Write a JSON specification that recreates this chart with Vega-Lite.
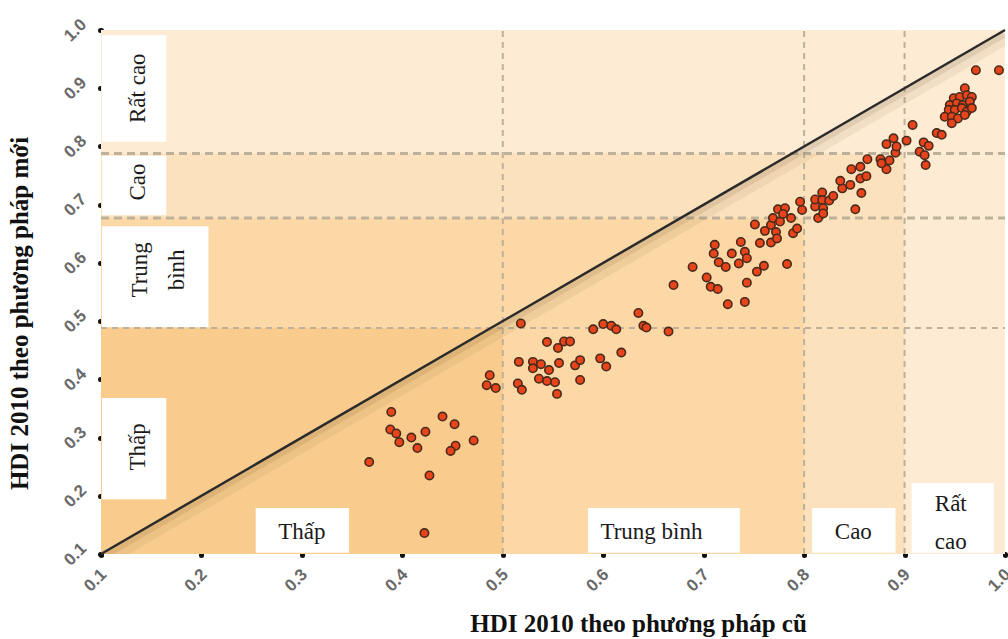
{
  "$schema": "https://vega.github.io/schema/vega-lite/v6.json",
  "width": 904,
  "height": 524,
  "autosize": "none",
  "padding": {"left": 101, "top": 30, "right": 3, "bottom": 85},
  "background": "white",
  "config": {"view": {"stroke": null}},
  "datasets": {
    "bg": [
      {"x1": 0.1, "x2": 1.0, "y1": 0.1, "y2": 1.0, "c": "#FDEBD3"},
      {"x1": 0.1, "x2": 0.9, "y1": 0.1, "y2": 0.788, "c": "#FCE1BD"},
      {"x1": 0.1, "x2": 0.8, "y1": 0.1, "y2": 0.677, "c": "#FBD8A5"},
      {"x1": 0.1, "x2": 0.5, "y1": 0.1, "y2": 0.488, "c": "#F9CC8E"}
    ],
    "thick": [
      {"x1": 0.1, "x2": 1.0, "y1": 0.788, "y2": 0.788},
      {"x1": 0.1, "x2": 1.0, "y1": 0.677, "y2": 0.677}
    ],
    "thin": [
      {"x1": 0.1, "x2": 1.0, "y1": 0.488, "y2": 0.488},
      {"x1": 0.5, "x2": 0.5, "y1": 0.1, "y2": 1.0},
      {"x1": 0.8, "x2": 0.8, "y1": 0.1, "y2": 1.0},
      {"x1": 0.9, "x2": 0.9, "y1": 0.1, "y2": 1.0}
    ],
    "diag": [{"x": 0.1, "y": 0.1}, {"x": 1.0, "y": 1.0}],
    "boxes": [
      {"x1": 0.101, "x2": 0.165, "y1": 0.808, "y2": 0.991},
      {"x1": 0.101, "x2": 0.165, "y1": 0.682, "y2": 0.784},
      {"x1": 0.101, "x2": 0.207, "y1": 0.490, "y2": 0.663},
      {"x1": 0.101, "x2": 0.165, "y1": 0.194, "y2": 0.368},
      {"x1": 0.254, "x2": 0.347, "y1": 0.102, "y2": 0.179},
      {"x1": 0.585, "x2": 0.736, "y1": 0.102, "y2": 0.179},
      {"x1": 0.808, "x2": 0.891, "y1": 0.102, "y2": 0.179},
      {"x1": 0.907, "x2": 0.989, "y1": 0.102, "y2": 0.222}
    ],
    "vlabels": [
      {"x": 0.137, "y": 0.900, "t": "Rất cao"},
      {"x": 0.137, "y": 0.739, "t": "Cao"},
      {"x": 0.139, "y": 0.588, "t": "Trung\nbình"},
      {"x": 0.137, "y": 0.284, "t": "Thấp"}
    ],
    "hlabels": [
      {"x": 0.300, "y": 0.137, "t": "Thấp"},
      {"x": 0.648, "y": 0.137, "t": "Trung bình"},
      {"x": 0.849, "y": 0.137, "t": "Cao"},
      {"x": 0.946, "y": 0.186, "t": "Rất"},
      {"x": 0.946, "y": 0.120, "t": "cao"}
    ],
    "pts": [
      {"x":0.389,"y":0.344},{"x":0.440,"y":0.336},{"x":0.452,"y":0.323},{"x":0.388,"y":0.314},
      {"x":0.394,"y":0.307},{"x":0.409,"y":0.300},{"x":0.423,"y":0.310},{"x":0.397,"y":0.292},
      {"x":0.415,"y":0.282},{"x":0.471,"y":0.295},{"x":0.453,"y":0.286},{"x":0.448,"y":0.277},
      {"x":0.367,"y":0.258},{"x":0.427,"y":0.235},{"x":0.422,"y":0.136},{"x":0.518,"y":0.496},
      {"x":0.487,"y":0.407},{"x":0.484,"y":0.390},{"x":0.493,"y":0.385},{"x":0.516,"y":0.430},
      {"x":0.515,"y":0.393},{"x":0.519,"y":0.382},{"x":0.530,"y":0.430},{"x":0.530,"y":0.419},
      {"x":0.538,"y":0.426},{"x":0.546,"y":0.416},{"x":0.536,"y":0.401},{"x":0.544,"y":0.397},
      {"x":0.552,"y":0.395},{"x":0.554,"y":0.375},{"x":0.556,"y":0.428},{"x":0.544,"y":0.464},
      {"x":0.555,"y":0.454},{"x":0.561,"y":0.465},{"x":0.567,"y":0.465},{"x":0.572,"y":0.424},
      {"x":0.577,"y":0.433},{"x":0.577,"y":0.399},{"x":0.590,"y":0.486},{"x":0.600,"y":0.495},
      {"x":0.608,"y":0.492},{"x":0.613,"y":0.486},{"x":0.597,"y":0.436},{"x":0.603,"y":0.422},
      {"x":0.618,"y":0.446},{"x":0.635,"y":0.514},{"x":0.640,"y":0.492},{"x":0.643,"y":0.489},
      {"x":0.665,"y":0.482},{"x":0.670,"y":0.562},{"x":0.689,"y":0.593},{"x":0.703,"y":0.575},
      {"x":0.707,"y":0.559},{"x":0.714,"y":0.555},{"x":0.711,"y":0.631},{"x":0.710,"y":0.616},
      {"x":0.715,"y":0.601},{"x":0.722,"y":0.593},{"x":0.728,"y":0.616},{"x":0.737,"y":0.636},
      {"x":0.741,"y":0.619},{"x":0.743,"y":0.608},{"x":0.735,"y":0.599},{"x":0.724,"y":0.529},
      {"x":0.741,"y":0.533},{"x":0.743,"y":0.566},{"x":0.753,"y":0.585},{"x":0.760,"y":0.595},
      {"x":0.783,"y":0.598},{"x":0.751,"y":0.666},{"x":0.756,"y":0.634},{"x":0.761,"y":0.655},
      {"x":0.767,"y":0.635},{"x":0.772,"y":0.653},{"x":0.773,"y":0.642},{"x":0.767,"y":0.665},
      {"x":0.769,"y":0.677},{"x":0.776,"y":0.671},{"x":0.774,"y":0.692},{"x":0.781,"y":0.694},
      {"x":0.779,"y":0.684},{"x":0.787,"y":0.677},{"x":0.789,"y":0.651},{"x":0.793,"y":0.659},
      {"x":0.798,"y":0.691},{"x":0.796,"y":0.705},{"x":0.811,"y":0.697},{"x":0.814,"y":0.677},
      {"x":0.811,"y":0.709},{"x":0.818,"y":0.721},{"x":0.818,"y":0.708},{"x":0.819,"y":0.694},
      {"x":0.825,"y":0.707},{"x":0.829,"y":0.715},{"x":0.819,"y":0.685},{"x":0.851,"y":0.692},
      {"x":0.838,"y":0.728},{"x":0.836,"y":0.741},{"x":0.846,"y":0.734},{"x":0.856,"y":0.745},
      {"x":0.862,"y":0.749},{"x":0.857,"y":0.720},{"x":0.847,"y":0.761},{"x":0.856,"y":0.765},
      {"x":0.863,"y":0.778},{"x":0.876,"y":0.778},{"x":0.882,"y":0.761},{"x":0.877,"y":0.771},
      {"x":0.885,"y":0.776},{"x":0.882,"y":0.804},{"x":0.889,"y":0.814},{"x":0.891,"y":0.789},
      {"x":0.892,"y":0.800},{"x":0.902,"y":0.810},{"x":0.908,"y":0.837},{"x":0.971,"y":0.931},
      {"x":0.994,"y":0.931},{"x":0.960,"y":0.900},{"x":0.949,"y":0.883},{"x":0.955,"y":0.885},
      {"x":0.962,"y":0.888},{"x":0.967,"y":0.885},{"x":0.945,"y":0.871},{"x":0.952,"y":0.874},
      {"x":0.958,"y":0.871},{"x":0.965,"y":0.877},{"x":0.944,"y":0.863},{"x":0.950,"y":0.863},
      {"x":0.957,"y":0.866},{"x":0.962,"y":0.860},{"x":0.967,"y":0.866},{"x":0.940,"y":0.851},
      {"x":0.947,"y":0.851},{"x":0.953,"y":0.848},{"x":0.960,"y":0.854},{"x":0.947,"y":0.840},
      {"x":0.932,"y":0.823},{"x":0.937,"y":0.820},{"x":0.919,"y":0.807},{"x":0.924,"y":0.801},
      {"x":0.915,"y":0.791},{"x":0.920,"y":0.785},{"x":0.921,"y":0.768}
    ]
  },
  "layer": [
    {
      "data": {"name": "bg"},
      "mark": {"type": "rect"},
      "encoding": {
        "x": {
          "field": "x1", "type": "quantitative",
          "scale": {"domain": [0.1, 1.0], "nice": false, "zero": false},
          "axis": {
            "title": "HDI 2010 theo phương pháp cũ",
            "values": [0.1, 0.2, 0.3, 0.4, 0.5, 0.6, 0.7, 0.8, 0.9, 1.0],
            "format": ".1f",
            "domain": false, "grid": false,
            "ticks": true, "tickSize": 1, "tickWidth": 5, "tickCap": "round", "tickColor": "#111",
            "labelAngle": -45, "labelAlign": "center", "labelBaseline": "middle",
            "labelPadding": 25, "labelOffset": -6,
            "labelFont": "Liberation Sans", "labelFontSize": 17, "labelFontWeight": "bold", "labelColor": "#6a6a6a",
            "labelOverlap": false, "labelFlush": false, "labelBound": false,
            "titleFont": "Liberation Serif", "titleFontSize": 25, "titleFontWeight": "bold", "titleColor": "#111",
            "titleX": 537, "titleY": 77, "titleAnchor": null, "titleAlign": "center", "titleBaseline": "alphabetic"
          }
        },
        "x2": {"field": "x2"},
        "y": {
          "field": "y1", "type": "quantitative",
          "scale": {"domain": [0.1, 1.0], "nice": false, "zero": false},
          "axis": {
            "title": "HDI 2010 theo phương pháp mới",
            "values": [0.1, 0.2, 0.3, 0.4, 0.5, 0.6, 0.7, 0.8, 0.9, 1.0],
            "format": ".1f",
            "domain": false, "grid": false,
            "ticks": true, "tickSize": 1, "tickWidth": 5, "tickCap": "round", "tickColor": "#111",
            "labelAngle": -45, "labelAlign": "center", "labelBaseline": "middle",
            "labelPadding": 25,
            "labelFont": "Liberation Sans", "labelFontSize": 17, "labelFontWeight": "bold", "labelColor": "#6a6a6a",
            "labelOverlap": false, "labelFlush": false, "labelBound": false,
            "titleFont": "Liberation Serif", "titleFontSize": 25, "titleFontWeight": "bold", "titleColor": "#111",
            "titleX": -82, "titleY": 283, "titleAngle": -90, "titleAlign": "center", "titleBaseline": "middle"
          }
        },
        "y2": {"field": "y2"},
        "color": {"field": "c", "type": "nominal", "scale": null}
      }
    },
    {
      "data": {"name": "thin"},
      "mark": {"type": "rule", "color": "#BDB19C", "strokeWidth": 2, "strokeDash": [6, 5]},
      "encoding": {
        "x": {"field": "x1", "type": "quantitative"},
        "x2": {"field": "x2"},
        "y": {"field": "y1", "type": "quantitative"},
        "y2": {"field": "y2"}
      }
    },
    {
      "data": {"name": "thick"},
      "mark": {"type": "rule", "color": "#BDB19C", "strokeWidth": 3, "strokeDash": [8, 5]},
      "encoding": {
        "x": {"field": "x1", "type": "quantitative"},
        "x2": {"field": "x2"},
        "y": {"field": "y1", "type": "quantitative"},
        "y2": {"field": "y2"}
      }
    },
    {
      "data": {"name": "diag"},
      "mark": {"type": "line", "color": "#6b4a20", "strokeWidth": 14, "opacity": 0.08, "yOffset": 8, "clip": true},
      "encoding": {
        "x": {"field": "x", "type": "quantitative"},
        "y": {"field": "y", "type": "quantitative"}
      }
    },
    {
      "data": {"name": "diag"},
      "mark": {"type": "line", "color": "#6b4a20", "strokeWidth": 6, "opacity": 0.12, "yOffset": 4, "clip": true},
      "encoding": {
        "x": {"field": "x", "type": "quantitative"},
        "y": {"field": "y", "type": "quantitative"}
      }
    },
    {
      "data": {"name": "diag"},
      "mark": {"type": "line", "color": "#2b2b2b", "strokeWidth": 2.5},
      "encoding": {
        "x": {"field": "x", "type": "quantitative"},
        "y": {"field": "y", "type": "quantitative"}
      }
    },
    {
      "data": {"name": "boxes"},
      "mark": {"type": "rect", "color": "#ffffff"},
      "encoding": {
        "x": {"field": "x1", "type": "quantitative"},
        "x2": {"field": "x2"},
        "y": {"field": "y1", "type": "quantitative"},
        "y2": {"field": "y2"}
      }
    },
    {
      "data": {"name": "vlabels"},
      "mark": {"type": "text", "angle": 270, "font": "Liberation Serif", "fontSize": 23, "color": "#1a1a1a", "lineBreak": "\n", "lineHeight": 37, "align": "center", "baseline": "middle"},
      "encoding": {
        "x": {"field": "x", "type": "quantitative"},
        "y": {"field": "y", "type": "quantitative"},
        "text": {"field": "t"}
      }
    },
    {
      "data": {"name": "hlabels"},
      "mark": {"type": "text", "font": "Liberation Serif", "fontSize": 23, "color": "#1a1a1a", "align": "center", "baseline": "middle"},
      "encoding": {
        "x": {"field": "x", "type": "quantitative"},
        "y": {"field": "y", "type": "quantitative"},
        "text": {"field": "t"}
      }
    },
    {
      "data": {"name": "pts"},
      "mark": {"type": "point", "filled": true, "shape": "circle", "size": 70, "fill": "#E8441C", "stroke": "#4a2a1a", "strokeWidth": 1.6, "opacity": 1, "fillOpacity": 1},
      "encoding": {
        "x": {"field": "x", "type": "quantitative"},
        "y": {"field": "y", "type": "quantitative"}
      }
    }
  ]
}
